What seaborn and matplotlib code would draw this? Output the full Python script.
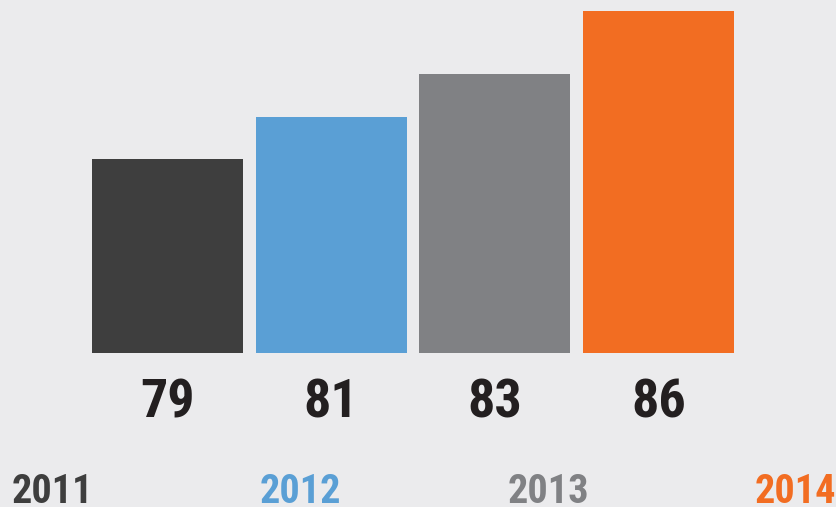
import matplotlib
matplotlib.use("Agg")
import matplotlib.pyplot as plt
import matplotlib.font_manager as fm
import seaborn as sns
import pandas as pd

years = ["2011", "2012", "2013", "2014"]
values = [79, 81, 83, 86]
colors = ["#3e3e3e", "#5a9fd5", "#808184", "#f26d22"]

bg = "#ebebed"
sns.set_theme(style="white")

available = {f.name for f in fm.fontManager.ttflist}
candidates = ["Roboto Condensed", "Archivo Narrow", "Barlow Condensed",
              "Oswald", "Sofia Sans Condensed", "Liberation Sans Narrow"]
fam = [c for c in candidates if c in available][:1] + ["DejaVu Sans"]
plt.rcParams["font.family"] = fam

df = pd.DataFrame({"year": years, "value": values})

W, H = 837, 507
fig = plt.figure(figsize=(W / 100, H / 100), dpi=100)
fig.patch.set_facecolor(bg)

left = 85.7 / W
right = 740.3 / W
bottom = (H - 353) / H
ax = fig.add_axes([left, bottom, right - left, 1 - bottom])
ax.set_facecolor(bg)

sns.barplot(data=df, x="year", y="value", hue="year", palette=colors,
            width=0.923, saturation=1, legend=False, ax=ax, order=years,
            linewidth=0, edgecolor="none")
ax.set_xlim(-0.5, 3.5)
ax.set_ylim(69.82, 86.52)
ax.axis("off")

for i, v in enumerate(values):
    ax.annotate(str(v), xy=(i, (H - 418) / H), xycoords=("data", "figure fraction"),
                ha="center", va="baseline", fontsize=39, fontweight="bold",
                color="#231f20")

year_x = [12, 260, 508, 755]
for xp, y, c in zip(year_x, years, colors):
    fig.text(xp / W, 4 / H, y, ha="left", va="baseline", fontsize=29,
             fontweight="bold", color=c)

fig.savefig("out.png", dpi=100, facecolor=bg)
